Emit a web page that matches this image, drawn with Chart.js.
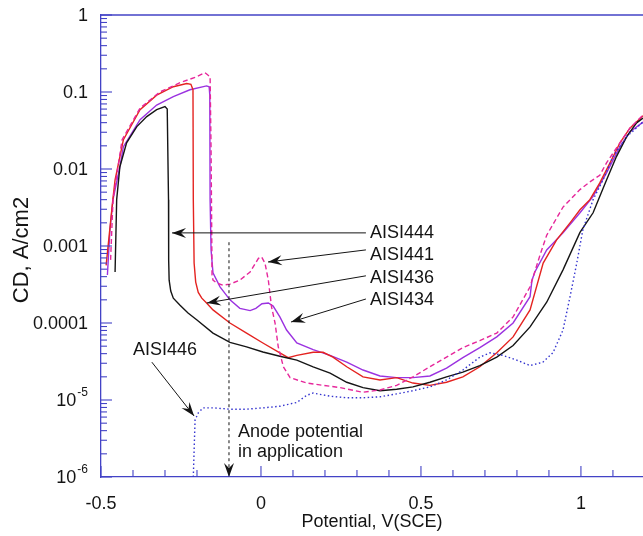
<!DOCTYPE html>
<html>
<head>
<meta charset="utf-8">
<title>Polarization curves</title>
<script src="https://cdn.jsdelivr.net/npm/chart.js@4.4.1/dist/chart.umd.min.js"></script>
<style>
  html, body { margin: 0; padding: 0; background: #fff; }
  #wrap { width: 643px; height: 536px; position: relative; }
</style>
</head>
<body>
<div id="wrap"><canvas id="cdChart" width="643" height="536"></canvas></div>
<script>
// Potential, V(SCE)
var aisi444X = [-0.456, -0.451, -0.441, -0.420, -0.388, -0.357, -0.326, -0.300, -0.293, -0.289, -0.2885, -0.287, -0.282, -0.274, -0.253, -0.228, -0.201, -0.150, -0.097, -0.045, 0.006, 0.059, 0.112, 0.163, 0.216, 0.268, 0.319, 0.372, 0.424, 0.475, 0.528, 0.580, 0.631, 0.684, 0.737, 0.788, 0.841, 0.893, 0.944, 0.997, 1.038, 1.080, 1.111, 1.143, 1.174, 1.194];
// CD, A/cm2
var aisi444Y = [4.6e-4, 4.0e-3, 0.0107, 0.0219, 0.0355, 0.0479, 0.0589, 0.0646, 0.0603, 0.0040, 6.6e-4, 3.6e-4, 2.6e-4, 2.1e-4, 1.7e-4, 1.35e-4, 1.10e-4, 7.4e-5, 5.6e-5, 4.9e-5, 4.2e-5, 3.7e-5, 3.3e-5, 2.7e-5, 2.24e-5, 1.7e-5, 1.45e-5, 1.32e-5, 1.38e-5, 1.48e-5, 1.7e-5, 2.0e-5, 2.3e-5, 2.8e-5, 3.6e-5, 5.1e-5, 8.9e-5, 1.86e-4, 4.9e-4, 1.5e-3, 2.7e-3, 7.2e-3, 0.0145, 0.0263, 0.0398, 0.0457];

var aisi436X = [-0.484, -0.463, -0.456, -0.430, -0.378, -0.326, -0.274, -0.232, -0.219, -0.2125, -0.2115, -0.209, -0.204, -0.196, -0.185, -0.170, -0.150, -0.097, -0.045, 0.006, 0.059, 0.085, 0.112, 0.163, 0.194, 0.225, 0.268, 0.319, 0.372, 0.424, 0.475, 0.528, 0.580, 0.631, 0.684, 0.737, 0.788, 0.841, 0.882, 0.924, 0.966, 0.997, 1.028, 1.059, 1.091, 1.122, 1.153, 1.194];
var aisi436Y = [5.6e-4, 4.0e-3, 7.2e-3, 0.024, 0.059, 0.091, 0.117, 0.129, 0.126, 0.107, 4.0e-3, 6.0e-4, 3.4e-4, 2.5e-4, 2.1e-4, 1.82e-4, 1.48e-4, 1.0e-4, 7.4e-5, 5.5e-5, 4.1e-5, 3.55e-5, 3.8e-5, 4.17e-5, 4.17e-5, 3.6e-5, 2.7e-5, 2.0e-5, 1.82e-5, 1.95e-5, 1.66e-5, 1.55e-5, 1.7e-5, 2.0e-5, 2.7e-5, 4.1e-5, 6.6e-5, 1.48e-4, 6.0e-4, 1.2e-3, 2.0e-3, 2.95e-3, 4.0e-3, 6.6e-3, 0.012, 0.0219, 0.0339, 0.049];

var aisi441X = [-0.470, -0.4625, -0.434, -0.378, -0.316, -0.253, -0.206, -0.175, -0.166, -0.159, -0.156, -0.154, -0.153, -0.150, -0.138, -0.119, -0.097, -0.066, -0.034, -0.008, 0.002, 0.0125, 0.023, 0.033, 0.044, 0.054, 0.070, 0.091, 0.143, 0.194, 0.247, 0.319, 0.372, 0.424, 0.475, 0.528, 0.580, 0.631, 0.684, 0.737, 0.788, 0.841, 0.872, 0.893, 0.944, 0.997, 1.028, 1.059, 1.080, 1.122, 1.153, 1.194];
var aisi441Y = [6.6e-4, 4.0e-3, 0.024, 0.0617, 0.100, 0.132, 0.155, 0.178, 0.166, 0.158, 0.0178, 1.62e-3, 4.2e-4, 3.6e-4, 3.3e-4, 3.1e-4, 3.2e-4, 3.6e-4, 4.6e-4, 6.9e-4, 7.2e-4, 6.0e-4, 3.6e-4, 1.62e-4, 1.0e-4, 4.9e-5, 2.7e-5, 1.95e-5, 1.66e-5, 1.55e-5, 1.45e-5, 1.26e-5, 1.35e-5, 1.55e-5, 2.0e-5, 2.7e-5, 3.6e-5, 4.8e-5, 5.9e-5, 7.4e-5, 1.2e-4, 2.95e-4, 7.6e-4, 1.38e-3, 3.2e-3, 5.4e-3, 6.8e-3, 8.3e-3, 0.012, 0.0219, 0.0339, 0.050];

var aisi434X = [-0.480, -0.472, -0.4625, -0.440, -0.430, -0.378, -0.326, -0.274, -0.222, -0.170, -0.162, -0.160, -0.159, -0.156, -0.150, -0.128, -0.097, -0.066, -0.034, -0.016, 0.003, 0.023, 0.038, 0.059, 0.080, 0.112, 0.163, 0.216, 0.268, 0.319, 0.372, 0.424, 0.475, 0.528, 0.580, 0.631, 0.684, 0.737, 0.788, 0.841, 0.847, 0.856, 0.893, 0.944, 0.997, 1.038, 1.080, 1.122, 1.153, 1.194];
var aisi434Y = [4.2e-4, 1.62e-3, 4.0e-3, 0.0112, 0.0195, 0.0437, 0.0676, 0.0871, 0.107, 0.120, 0.117, 0.091, 4.0e-3, 8.9e-4, 4.5e-4, 2.95e-4, 2.0e-4, 1.55e-4, 1.45e-4, 1.55e-4, 1.78e-4, 1.82e-4, 1.66e-4, 1.2e-4, 8.1e-5, 5.5e-5, 4.5e-5, 3.8e-5, 3.1e-5, 2.45e-5, 2.05e-5, 1.95e-5, 1.95e-5, 2.05e-5, 2.6e-5, 3.55e-5, 4.8e-5, 6.6e-5, 1.0e-4, 2.2e-4, 3.6e-4, 4.6e-4, 8.9e-4, 1.48e-3, 2.7e-3, 4.4e-3, 8.9e-3, 0.0195, 0.0302, 0.0407];

var aisi446X = [-0.2115, -0.208, -0.206, -0.196, -0.181, -0.150, -0.097, -0.045, 0.006, 0.059, 0.112, 0.143, 0.163, 0.216, 0.268, 0.319, 0.372, 0.424, 0.475, 0.528, 0.580, 0.631, 0.684, 0.716, 0.756, 0.799, 0.841, 0.881, 0.9125, 0.944, 0.966, 0.987, 1.006, 1.038, 1.069, 1.100, 1.143, 1.194];
var aisi446Y = [1.0e-6, 3.0e-6, 5.5e-6, 6.8e-6, 7.9e-6, 7.9e-6, 7.6e-6, 7.6e-6, 7.9e-6, 8.3e-6, 9.3e-6, 1.15e-5, 1.23e-5, 1.12e-5, 1.07e-5, 1.07e-5, 1.1e-5, 1.2e-5, 1.32e-5, 1.48e-5, 1.82e-5, 2.45e-5, 3.6e-5, 4.1e-5, 3.8e-5, 3.3e-5, 2.8e-5, 3.1e-5, 4.1e-5, 8.1e-5, 2.2e-4, 6.0e-4, 1.62e-3, 4.0e-3, 7.2e-3, 0.0145, 0.0263, 0.0407];

// axis ticks
var xTicks = [-0.5, 0, 0.5, 1];
var xTickLabels = ['-0.5', '0', '0.5', '1'];
var yTicks = [1, 0.1, 0.01, 0.001, 0.0001, 1e-5, 1e-6];
var yTickLabels = ['1', '0.1', '0.01', '0.001', '0.0001', '10^-5', '10^-6'];

// labelled arrows, in data units
var callouts = [
  { text: 'AISI444', textAt: [0.341, 1.48e-3], from: [0.328, 1.48e-3], to: [-0.278, 1.48e-3] },
  { text: 'AISI441', textAt: [0.341, 7.6e-4], from: [0.328, 8.9e-4], to: [0.022, 6.2e-4] },
  { text: 'AISI436', textAt: [0.341, 3.8e-4], from: [0.328, 4.1e-4], to: [-0.169, 1.82e-4] },
  { text: 'AISI434', textAt: [0.341, 2.0e-4], from: [0.328, 2.05e-4], to: [0.094, 1.03e-4] },
  { text: 'AISI446', textAt: [-0.400, 4.5e-5], from: [-0.341, 3.1e-5], to: [-0.209, 6.2e-6] }
];
var anodePotential = -0.1;
var anodeLineTop = 1.12e-3;
var anodeText = ['Anode potential', 'in application'];
var anodeTextAt = [[-0.072, 3.8e-6], [-0.072, 2.1e-6]];

var FONT = '"Liberation Sans", Arial, Helvetica, sans-serif';
var frameColor = '#4343c6';
var inkColor = '#141414';

function toPoints(xs, ys) {
    return xs.map(function (x, i) { return { x: x, y: ys[i] }; });
}

function drawArrowHead(ctx, x1, y1, x2, y2) {
    var ang = Math.atan2(y2 - y1, x2 - x1);
    var len = 14, half = 5, notch = 9;
    ctx.save();
    ctx.translate(x2, y2);
    ctx.rotate(ang);
    ctx.beginPath();
    ctx.moveTo(0, 0);
    ctx.lineTo(-len, -half);
    ctx.lineTo(-notch, 0);
    ctx.lineTo(-len, half);
    ctx.closePath();
    ctx.fill();
    ctx.restore();
}

// frame, inward ticks, y labels and the text callouts
var decorPlugin = {
    id: 'decor',
    afterDatasetsDraw: function (chart) {
        var ctx = chart.ctx;
        var area = chart.chartArea;
        var xs = chart.scales.x;
        var ys = chart.scales.y;
        var i, m, d, px, py;

        ctx.save();
        ctx.strokeStyle = frameColor;
        ctx.lineWidth = 1.3;

        // top edge of the frame
        ctx.beginPath();
        ctx.moveTo(area.left, area.top);
        ctx.lineTo(area.right, area.top);
        ctx.stroke();

        // x ticks every 0.1, longer at every 0.5
        ctx.lineWidth = 1.1;
        for (i = -5; i <= 11; i++) {
            px = xs.getPixelForValue(i / 10);
            if (px > area.right) break;
            var big = (i % 5 === 0);
            ctx.beginPath();
            ctx.moveTo(px, area.bottom);
            ctx.lineTo(px, area.bottom - (big ? 11 : 7));
            ctx.stroke();
        }

        // y ticks: decades and 2..9 in between
        for (d = -6; d <= 0; d++) {
            py = ys.getPixelForValue(Math.pow(10, d));
            ctx.beginPath();
            ctx.moveTo(area.left, py);
            ctx.lineTo(area.left + 11, py);
            ctx.stroke();
            if (d === 0) continue;
            for (m = 2; m <= 9; m++) {
                py = ys.getPixelForValue(m * Math.pow(10, d));
                ctx.beginPath();
                ctx.moveTo(area.left, py);
                ctx.lineTo(area.left + 6, py);
                ctx.stroke();
            }
        }

        // y tick labels, powers written with a raised exponent
        ctx.fillStyle = inkColor;
        ctx.textBaseline = 'middle';
        for (i = 0; i < yTicks.length; i++) {
            py = ys.getPixelForValue(yTicks[i]);
            var lab = yTickLabels[i];
            var right = area.left - 13;
            if (lab.indexOf('^') > -1) {
                var parts = lab.split('^');
                ctx.font = '12px ' + FONT;
                ctx.textAlign = 'right';
                var ew = ctx.measureText(parts[1]).width;
                ctx.fillText(parts[1], right, py - 7);
                ctx.font = '18px ' + FONT;
                ctx.fillText(parts[0], right - ew - 1, py + 1);
            } else {
                ctx.font = '18px ' + FONT;
                ctx.textAlign = 'right';
                ctx.fillText(lab, right, py + 1);
            }
        }

        // y axis title
        ctx.save();
        ctx.translate(22, (area.top + area.bottom) / 2 + 4);
        ctx.rotate(-Math.PI / 2);
        ctx.textAlign = 'center';
        ctx.font = '22px ' + FONT;
        ctx.fillText('CD, A/cm2', 0, 0);
        ctx.restore();

        // callout arrows
        ctx.strokeStyle = inkColor;
        ctx.fillStyle = inkColor;
        ctx.lineWidth = 1;
        callouts.forEach(function (c) {
            var x1 = xs.getPixelForValue(c.from[0]), y1 = ys.getPixelForValue(c.from[1]);
            var x2 = xs.getPixelForValue(c.to[0]), y2 = ys.getPixelForValue(c.to[1]);
            ctx.beginPath();
            ctx.moveTo(x1, y1);
            ctx.lineTo(x2, y2);
            ctx.stroke();
            drawArrowHead(ctx, x1, y1, x2, y2);
            ctx.font = '18px ' + FONT;
            ctx.textAlign = 'left';
            ctx.textBaseline = 'middle';
            ctx.fillText(c.text, xs.getPixelForValue(c.textAt[0]), ys.getPixelForValue(c.textAt[1]));
        });

        // anode potential marker
        var ax = xs.getPixelForValue(anodePotential);
        var ay = ys.getPixelForValue(anodeLineTop);
        ctx.setLineDash([3, 3]);
        ctx.beginPath();
        ctx.moveTo(ax, ay);
        ctx.lineTo(ax, area.bottom - 8);
        ctx.stroke();
        ctx.setLineDash([]);
        drawArrowHead(ctx, ax, ay, ax, area.bottom);
        anodeText.forEach(function (t, k) {
            ctx.fillText(t, xs.getPixelForValue(anodeTextAt[k][0]), ys.getPixelForValue(anodeTextAt[k][1]));
        });

        ctx.restore();
    }
};

function series(label, xs, ys, color, dash) {
    return {
        label: label,
        data: toPoints(xs, ys),
        borderColor: color,
        borderWidth: 1.4,
        borderDash: dash || [],
        pointRadius: 0,
        showLine: true,
        fill: false,
        tension: 0
    };
}

var ctx = document.getElementById('cdChart').getContext('2d');
var chart = new Chart(ctx, {
    type: 'scatter',
    data: {
        datasets: [
            series('AISI446', aisi446X, aisi446Y, '#3434cf', [1.5, 2.5]),
            series('AISI441', aisi441X, aisi441Y, '#e6279b', [5, 3]),
            series('AISI444', aisi444X, aisi444Y, '#151515'),
            series('AISI436', aisi436X, aisi436Y, '#e42320'),
            series('AISI434', aisi434X, aisi434Y, '#9b32e0')
        ]
    },
    options: {
        responsive: false,
        animation: false,
        layout: { padding: { top: 15, right: 0, left: 0, bottom: 0 } },
        plugins: {
            legend: { display: false },
            tooltip: { enabled: false }
        },
        scales: {
            x: {
                type: 'linear',
                min: -0.5,
                max: 1.194,
                grid: { display: false },
                border: { display: true, color: frameColor, width: 1.3 },
                afterBuildTicks: function (scale) {
                    scale.ticks = xTicks.map(function (v) { return { value: v }; });
                },
                afterFit: function (scale) { scale.height = 59; },
                ticks: {
                    padding: 8,
                    color: inkColor,
                    font: { family: FONT, size: 18 },
                    maxRotation: 0,
                    callback: function (value) {
                        var k = xTicks.indexOf(value);
                        return k > -1 ? xTickLabels[k] : '';
                    }
                },
                title: {
                    display: true,
                    text: 'Potential, V(SCE)',
                    color: inkColor,
                    font: { family: FONT, size: 18 },
                    padding: { top: 0, bottom: 3 }
                }
            },
            y: {
                type: 'logarithmic',
                min: 1e-6,
                max: 1,
                grid: { display: false },
                border: { display: true, color: frameColor, width: 1.3 },
                afterBuildTicks: function (scale) {
                    scale.ticks = yTicks.map(function (v) { return { value: v }; });
                },
                afterFit: function (scale) { scale.width = 101; },
                ticks: { display: false }
            }
        }
    },
    plugins: [decorPlugin]
});
</script>
</body>
</html>
